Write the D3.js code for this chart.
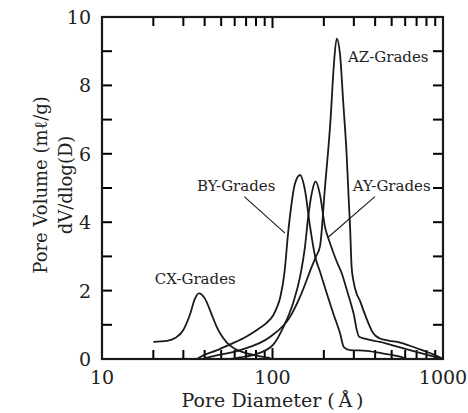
<!DOCTYPE html>
<html><head><meta charset="utf-8">
<script src="https://cdn.jsdelivr.net/npm/d3@7"></script>
<style>
html,body{margin:0;padding:0;background:#fff;}
svg text{font-family:"DejaVu Serif","Liberation Serif",serif;fill:#222;}
</style></head>
<body><svg id="c" width="468" height="413"></svg>
<script>
// ---- data ----
const cxD = [20,24,27,30,32.8,35,37,40,44,47,50,54,60,67,80,97];
const cxV = [0.5,0.53,0.62,0.85,1.3,1.75,1.92,1.78,1.3,0.95,0.7,0.48,0.3,0.2,0.1,0.03];

const byD = [36,39,47,56,70,81,92,101,106,111,118,123,129,135,145,155,166,178,190,208,227,249,262,285,357,447,560,620];
const byV = [0,0.1,0.25,0.42,0.65,0.85,1.05,1.28,1.5,1.8,2.6,3.6,4.5,5.1,5.38,4.94,3.87,2.99,2.55,1.92,1.34,0.75,0.35,0.26,0.24,0.16,0.07,0];

const ayD = [56,65,81,101,116,132,145,155,162,170,179,190,203,217,238,255,270,285,300,312,322,357,427,560,733,1000];
const ayV = [0,0.05,0.15,0.42,0.94,1.63,2.4,3.28,4.16,4.85,5.19,4.8,3.87,3.4,2.85,2.5,2.1,1.7,1.3,0.85,0.65,0.58,0.5,0.34,0.18,0];

const azD = [39,43,64.5,97,127,148,170,180,190,203,219,229,238,249,260,272,280,285,291,298,312,326,341,365,390,427,480,560,733,960,1000];
const azV = [0,0.06,0.26,0.65,1.24,1.92,2.7,3.0,3.3,5.0,7.0,8.6,9.37,8.9,7.5,6.0,4.65,3.87,2.7,2.3,1.9,1.7,1.43,1.05,0.75,0.6,0.54,0.48,0.28,0.05,0];

const xMajor = [10,100,1000];
const xMinor = [20,30,40,50,60,70,80,90,200,300,400,500,600,700,800,900];
const yTicks = [0,1,2,3,4,5,6,7,8,9,10];
const yLabels = [0,2,4,6,8,10];

const labels = [
  {text:"AZ-Grades", d:277, v:8.68},
  {text:"BY-Grades", d:36.1, v:4.9},
  {text:"AY-Grades", d:296, v:4.9},
  {text:"CX-Grades", d:20.4, v:2.2}
];
const leaders = [
  {d1:68.3, v1:4.75, d2:118.4, v2:3.68},
  {d1:399, v1:4.75, d2:212, v2:3.56}
];

// ---- chart ----
const svg = d3.select("#c");
const L=102, R=443, T=17, B=359;
const x = d3.scaleLog().domain([10,1000]).range([L,R]);
const y = d3.scaleLinear().domain([0,10]).range([B,T]);
const ink = "#1a1a1a";

// ticks (inside, all four sides)
const tickG = svg.append("g");
xMajor.concat(xMinor).forEach(v=>{
  const len = xMajor.includes(v)?11:9;
  [[B,B-len],[T,T+len]].forEach(([a,b])=>{
    tickG.append("line").attr("x1",x(v)).attr("x2",x(v)).attr("y1",a).attr("y2",b)
      .attr("stroke","#000").attr("stroke-width",2);
  });
});
yTicks.forEach(v=>{
  [[L,L+10],[R,R-10]].forEach(([a,b])=>{
    tickG.append("line").attr("x1",a).attr("x2",b).attr("y1",y(v)).attr("y2",y(v))
      .attr("stroke","#000").attr("stroke-width",2);
  });
});

const line = d3.line().x(d=>x(d[0])).y(d=>y(d[1])).curve(d3.curveMonotoneX);
const series = [[cxD,cxV],[byD,byV],[ayD,ayV],[azD,azV]];
series.forEach(([ds,vs])=>{
  svg.append("path").datum(ds.map((d,i)=>[d,vs[i]]))
    .attr("d",line).attr("fill","none").attr("stroke",ink)
    .attr("stroke-width",1.8).attr("stroke-linejoin","round");
});

// frame
svg.append("rect").attr("x",L).attr("y",T).attr("width",R-L).attr("height",B-T)
  .attr("fill","none").attr("stroke",ink).attr("stroke-width",2.2);

// tick labels
xMajor.forEach(v=>{
  svg.append("text").attr("x",x(v)).attr("y",384).attr("text-anchor","middle")
    .style("font-size","19px").text(v);
});
yLabels.forEach(v=>{
  svg.append("text").attr("x",91).attr("y",y(v)+7).attr("text-anchor","end")
    .style("font-size","19px").text(v);
});

// labels
labels.forEach(l=>{
  svg.append("text").attr("x",x(l.d)).attr("y",y(l.v)).text(l.text)
    .style("font-size","15px");
});
leaders.forEach(l=>{
  svg.append("line").attr("x1",x(l.d1)).attr("y1",y(l.v1)).attr("x2",x(l.d2)).attr("y2",y(l.v2))
    .attr("stroke",ink).attr("stroke-width",1.1);
});

// axis titles
svg.append("text").attr("x",(L+R)/2).attr("y",407).attr("text-anchor","middle")
  .style("font-size","19px").text("Pore Diameter (\u2009Å\u2009)");
svg.append("text").attr("transform","translate(47,185) rotate(-90)").attr("text-anchor","middle")
  .style("font-size","18px").text("Pore Volume (mℓ/g)");
svg.append("text").attr("transform","translate(72,185) rotate(-90)").attr("text-anchor","middle")
  .style("font-size","18px").text("dV/dlog(D)");
</script></body></html>
